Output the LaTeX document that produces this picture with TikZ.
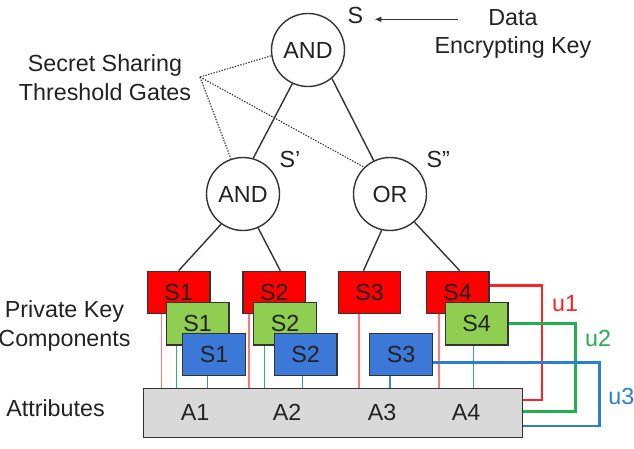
\documentclass[tikz,border=0pt]{standalone}
\usepackage{fontspec}
\setmainfont{Liberation Sans}
\usetikzlibrary{calc,arrows.meta}
\definecolor{txt}{HTML}{222222}
\definecolor{linec}{HTML}{333333}
\definecolor{kred}{HTML}{FF0000}
\definecolor{kgreen}{HTML}{8FCE50}
\definecolor{kblue}{HTML}{3C78D8}
\definecolor{abox}{HTML}{D9D9D9}
\definecolor{thinred}{HTML}{F97A7E}
\definecolor{thingreen}{HTML}{2DB56A}
\definecolor{thinblue}{HTML}{3D88CC}
\definecolor{ured}{HTML}{FF2222}
\definecolor{ugreen}{HTML}{22B04E}
\definecolor{ublue}{HTML}{2A7FD0}
\begin{document}
\begin{tikzpicture}[x=1pt,y=-1pt,
  font=\fontsize{23.3}{28.5}\selectfont,
  gate/.style={circle, draw=linec, line width=1.4pt, minimum size=73pt, inner sep=0pt, fill=white, text=txt},
  keybox/.style={rectangle, draw=linec, line width=1.2pt, minimum width=62.5pt, minimum height=42.5pt, inner sep=0pt, text=txt},
  rkey/.style={keybox, fill=kred},
  gkey/.style={keybox, fill=kgreen},
  bkey/.style={keybox, fill=kblue},
  lbl/.style={text=txt, inner sep=0pt, align=center},
  tree/.style={draw=linec, line width=1.4pt},
  gateptr/.style={draw=linec, line width=1.1pt, dash pattern=on 1.4pt off 1.4pt},
  rl/.style={draw=thinred, line width=1.2pt},
  gl/.style={draw=thingreen, line width=1.2pt},
  bl/.style={draw=thinblue, line width=1.2pt},
  uline/.style={line width=2.8pt}
]
\useasboundingbox (0,0) rectangle (634,449);

% text labels
\node[lbl] (ssg) at (105,77.5) {Secret Sharing\\Threshold Gates};
\node[lbl] (dek) at (513,34) {Data\\Encrypting Key};
\node[lbl] (sl) at (355.5,15) {S};
\node[lbl] (s1l) at (290,159.3) {S'};
\node[lbl] (s2l) at (438.3,159.3) {S''};
\node[lbl] (pkc) at (64.5,326) {Private Key\\Components};
\node[lbl] (attl) at (55.5,408.3) {Attributes};

% gates
\node[gate] (top) at (308,50) {AND};
\node[gate] (and2) at (243,194) {AND};
\node[gate] (or) at (390,194) {OR};

% attribute bar
\node[rectangle, draw=linec, line width=1.2pt, fill=abox, minimum width=379pt, minimum height=49pt, inner sep=0pt] (attr) at (333,413) {};
\node[lbl] (a1) at (195,412.5) {A1};
\node[lbl] (a2) at (287,412.5) {A2};
\node[lbl] (a3) at (382,412.5) {A3};
\node[lbl] (a4) at (466,412) {A4};

% key boxes
\node[rkey] (r1) at (178.7,292.5) {S1};
\node[rkey] (r2) at (274.3,292.5) {S2};
\node[rkey] (r3) at (369.5,292.5) {S3};
\node[rkey] (r4) at (457.7,292.5) {S4};
\node[gkey] (g1) at (197.7,323.8) {S1};
\node[gkey] (g2) at (285,323.8) {S2};
\node[gkey] (g4) at (476.7,323.8) {S4};
\node[bkey] (b1) at (214,354.5) {S1};
\node[bkey] (b2) at (305.7,354.5) {S2};
\node[bkey] (b3) at (401,354.5) {S3};

% tree edges
\draw[tree] (top.-115) -- (and2.74.6);
\draw[tree] (top.-50) -- (or.116);
\draw[tree] (and2.-126.6) -- (r1.north);
\draw[tree] (and2.-66.6) -- ($(r2.north)+(6,0)$);
\draw[tree] (or.-103) -- ($(r3.north)+(-6,0)$);
\draw[tree] (or.-49.5) -- ($(r4.north)+(2,0)$);

% dotted pointers
\coordinate (gp) at (200,77);
\draw[gateptr] (gp) -- (top.189);
\draw[gateptr] (gp) -- (and2.109);
\draw[gateptr] (gp) -- (or.134);

% arrow to S
\coordinate (arrs) at (458.3,19.3);
\draw[draw=linec, line width=1.3pt, -{Latex[length=7pt,width=6pt]}, shorten >=11pt] (arrs) -- (arrs -| sl.east);

% key-to-attribute links
\path ($(r1.south)+(-17,0)$) coordinate (r1x);
\path ($(g1.south)+(-21,0)$) coordinate (g1x);
\path ($(b1.south)+(-6.7,0)$) coordinate (b1x);
\path ($(r2.south)+(-25.3,0)$) coordinate (r2x);
\path ($(g2.south)+(-20.7,0)$) coordinate (g2x);
\path ($(b2.south)+(-3.4,0)$) coordinate (b2x);
\path ($(r3.south)+(-10.5,0)$) coordinate (r3x);
\path ($(b3.south)+(-11,0)$) coordinate (b3x);
\path ($(r4.south)+(-18.7,0)$) coordinate (r4x);
\path ($(g4.south)+(-3.4,0)$) coordinate (g4x);
\draw[rl] (r1x) -- (r1x |- attr.north);
\draw[gl] (g1x) -- (g1x |- attr.north);
\draw[bl] (b1x) -- (b1x |- attr.north);
\draw[rl] (r2x) -- (r2x |- attr.north);
\draw[gl] (g2x) -- (g2x |- attr.north);
\draw[bl] (b2x) -- (b2x |- attr.north);
\draw[rl] (r3x) -- (r3x |- attr.north);
\draw[bl] (b3x) -- (b3x |- attr.north);
\draw[rl] (r4x) -- (r4x |- attr.north);
\draw[gl] (g4x) -- (g4x |- attr.north);

% user loops
\path ($(r4.east)+(0,-6.8)$) coordinate (u1s);
\path ($(attr.east)+(0,-13)$) coordinate (u1e);
\path (g4.east) coordinate (u2s);
\path ($(attr.east)+(0,-1.3)$) coordinate (u2e);
\path ($(b3.east)+(0,7.8)$) coordinate (u3s);
\path ($(attr.east)+(0,13)$) coordinate (u3e);
\draw[uline, draw=ured] (u1s) -- ++(52.4,0) |- (u1e);
\draw[uline, draw=ugreen] (u2s) -- ++(66.7,0) |- (u2e);
\draw[uline, draw=ublue] (u3s) -- ++(166.3,0) |- (u3e);
\node[lbl, text=ured] (u1l) at (565,303.3) {u1};
\node[lbl, text=ugreen] (u2l) at (598,338.3) {u2};
\node[lbl, text=ublue] (u3l) at (621.3,396.7) {u3};
\end{tikzpicture}
\end{document}
